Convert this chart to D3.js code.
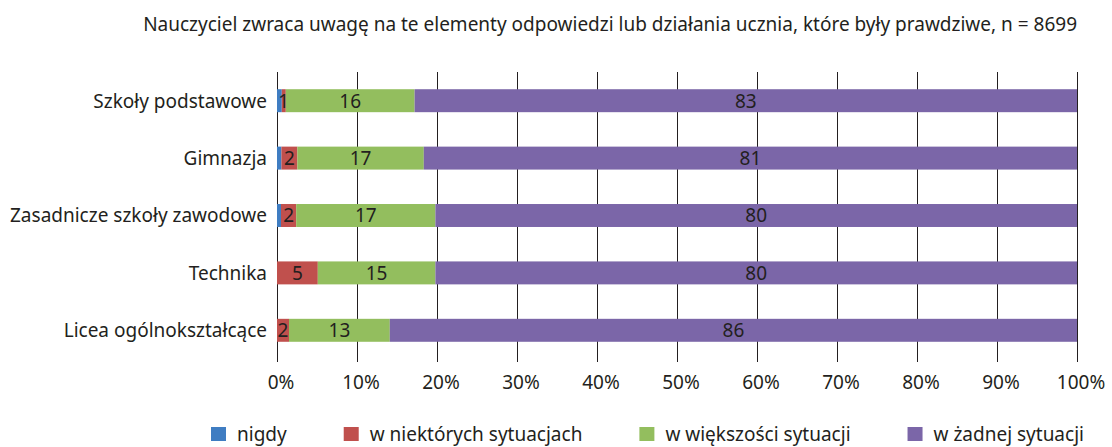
<!DOCTYPE html>
<html lang="pl">
<head>
  <meta charset="UTF-8">
  <title>Nauczyciel zwraca uwagę</title>
  <script src="https://d3js.org/d3.v7.min.js"></script>
  <style>
    body {
      margin: 0;
      background: white;
      font-family: "Noto Sans", sans-serif;
    }
    text {
      fill: #231f20;
    }
  </style>
</head>
<body>
  <div id="chart"></div>
  <script>
    // data (percent of bar length)
    const categories = ["Szkoły podstawowe", "Gimnazja", "Zasadnicze szkoły zawodowe", "Technika", "Licea ogólnokształcące"];
    const nigdy = [0.6, 0.55, 0.5, 0, 0];
    const niektorych = [0.5, 2.0, 1.9, 5.1, 1.5];
    const wiekszosci = [16.1, 15.8, 17.4, 14.7, 12.6];
    const zadnej = [82.8, 81.65, 80.2, 80.2, 85.9];
    // numbers printed on the bars
    const niektorychLabels = ["1", "2", "2", "5", "2"];
    const wiekszosciLabels = ["16", "17", "17", "15", "13"];
    const zadnejLabels = ["83", "81", "80", "80", "86"];
    const seriesNames = ["nigdy", "w niektórych sytuacjach", "w większości sytuacji", "w żadnej sytuacji"];
    const colors = ["#3f7dc2", "#c0504d", "#93be5e", "#7b66a8"];
    const ticks = [0, 10, 20, 30, 40, 50, 60, 70, 80, 90, 100];
    const title = "Nauczyciel zwraca uwagę na te elementy odpowiedzi lub działania ucznia, które były prawdziwe, n = 8699";

    const width = 1112, height = 447;
    const fontSize = 19;
    const margin = {top: 72, right: 35, bottom: 85, left: 277};

    const svg = d3.select("#chart").append("svg")
      .attr("width", width)
      .attr("height", height)
      .style("font-size", fontSize + "px");

    const x = d3.scaleLinear().domain([0, 100]).range([margin.left, width - margin.right]);
    const y = d3.scaleBand().domain(categories)
      .range([margin.top, height - margin.bottom - 3])
      .paddingInner(0.6).paddingOuter(0.3);

    const rows = categories.map((c, i) => ({
      cat: c,
      s0: nigdy[i], s1: niektorych[i], s2: wiekszosci[i], s3: zadnej[i],
      labels: [null, niektorychLabels[i], wiekszosciLabels[i], zadnejLabels[i]]
    }));
    const stack = d3.stack().keys(["s0", "s1", "s2", "s3"]);
    const series = stack(rows);

    // title
    svg.append("text")
      .attr("x", x(100))
      .attr("y", 31)
      .attr("text-anchor", "end")
      .text(title);

    // vertical grid lines
    svg.append("g")
      .selectAll("line")
      .data(ticks)
      .join("line")
      .attr("x1", d => Math.round(x(d)) + 0.5)
      .attr("x2", d => Math.round(x(d)) + 0.5)
      .attr("y1", margin.top)
      .attr("y2", height - margin.bottom)
      .attr("stroke", "#231f20")
      .attr("stroke-width", 1);

    // bars
    const layer = svg.append("g")
      .selectAll("g")
      .data(series)
      .join("g")
      .attr("fill", (d, i) => colors[i]);

    layer.selectAll("rect")
      .data(d => d)
      .join("rect")
      .attr("x", d => x(d[0]))
      .attr("y", d => y(d.data.cat))
      .attr("width", d => Math.max(0, x(d[1]) - x(d[0])))
      .attr("height", y.bandwidth());

    // numbers in bars
    series.forEach((s, k) => {
      svg.append("g")
        .attr("text-anchor", "middle")
        .selectAll("text")
        .data(s.filter(d => d.data.labels[k]))
        .join("text")
        .attr("x", d => (x(d[0]) + x(d[1])) / 2)
        .attr("y", d => y(d.data.cat) + y.bandwidth() / 2)
        .attr("dy", "0.36em")
        .text(d => d.data.labels[k]);
    });

    // category labels
    svg.append("g")
      .attr("text-anchor", "end")
      .selectAll("text")
      .data(categories)
      .join("text")
      .attr("x", margin.left - 10)
      .attr("y", d => y(d) + y.bandwidth() / 2)
      .attr("dy", "0.36em")
      .text(d => d);

    // tick labels
    svg.append("g")
      .attr("text-anchor", "middle")
      .selectAll("text")
      .data(ticks)
      .join("text")
      .attr("x", d => x(d) + 4)
      .attr("y", 389)
      .text(d => d + "%");

    // legend
    const legend = svg.append("g");
    let lx = 211;
    seriesNames.forEach((name, i) => {
      legend.append("rect")
        .attr("x", lx)
        .attr("y", 427)
        .attr("width", 15)
        .attr("height", 14)
        .attr("fill", colors[i]);
      const t = legend.append("text")
        .attr("x", lx + 26)
        .attr("y", 441)
        .text(name);
      lx += 26 + t.node().getComputedTextLength() + 57;
    });
  </script>
</body>
</html>
